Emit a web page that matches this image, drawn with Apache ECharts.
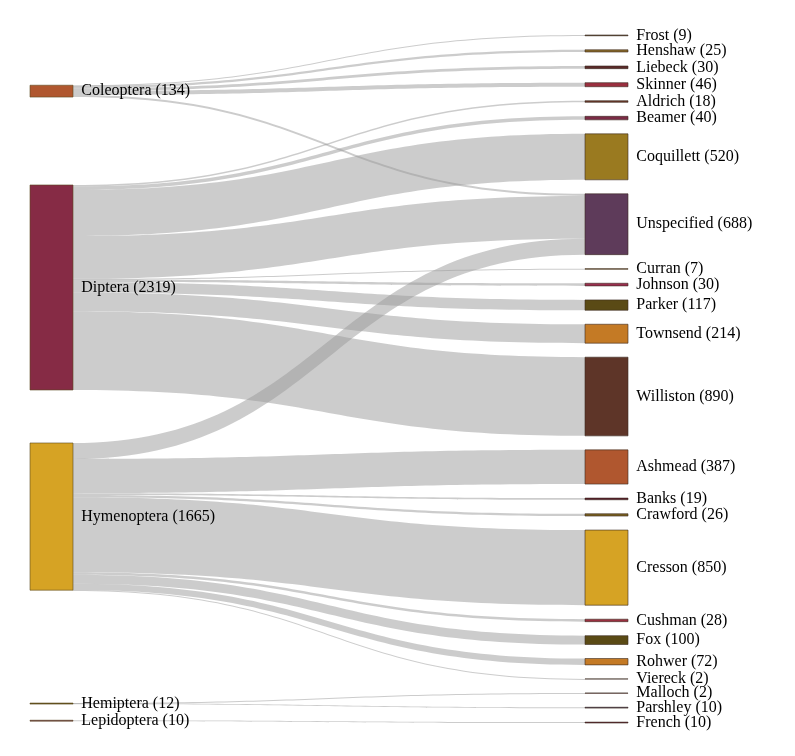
<!DOCTYPE html>
<html style="height: 100%">
<head>
  <meta charset="utf-8" />
  <script src="https://cdn.jsdelivr.net/npm/echarts@6/dist/echarts.min.js"></script>
</head>
<body style="height: 100%; margin: 0; background: #fff">
  <div id="chart" style="width: 795px; height: 756px"></div>
  <script>
    const orders = ['Coleoptera', 'Diptera', 'Hymenoptera', 'Hemiptera', 'Lepidoptera'];
    const orderColors = ['#b0572f', '#862b45', '#d6a324', '#6b5a1e', '#6b2b45'];
    const orderPos = [0.073, 0.218, 0.593, 0.971, 0.996];

    const authors = ['Frost', 'Henshaw', 'Liebeck', 'Skinner', 'Aldrich', 'Beamer', 'Coquillett',
      'Unspecified', 'Curran', 'Johnson', 'Parker', 'Townsend', 'Williston', 'Ashmead', 'Banks',
      'Crawford', 'Cresson', 'Cushman', 'Fox', 'Rohwer', 'Viereck', 'Malloch', 'Parshley', 'French'];
    const authorColors = ['#4a3a1a', '#8a6a2a', '#5a2a2a', '#9a2f3f', '#6b3a2a', '#7a2a45', '#9a7a20',
      '#5e3b5a', '#8a6a1a', '#9a2f4f', '#5a4a15', '#c47a25', '#5e3528', '#b0572f', '#5a1a2a',
      '#7a6020', '#d6a324', '#9a2f3f', '#5a4a15', '#c47a25', '#4a3a2a', '#6b2b3a', '#3a2a4a', '#6b2b3a'];

    // [source, target, value]
    const flows = [
      ['Coleoptera', 'Frost', 9], ['Coleoptera', 'Henshaw', 25], ['Coleoptera', 'Liebeck', 30],
      ['Coleoptera', 'Skinner', 46], ['Coleoptera', 'Unspecified', 24],
      ['Diptera', 'Aldrich', 18], ['Diptera', 'Beamer', 40], ['Diptera', 'Coquillett', 520],
      ['Diptera', 'Unspecified', 483], ['Diptera', 'Curran', 7], ['Diptera', 'Johnson', 30],
      ['Diptera', 'Parker', 117], ['Diptera', 'Townsend', 214], ['Diptera', 'Williston', 890],
      ['Hymenoptera', 'Unspecified', 181], ['Hymenoptera', 'Ashmead', 387], ['Hymenoptera', 'Banks', 19],
      ['Hymenoptera', 'Crawford', 26], ['Hymenoptera', 'Cresson', 850], ['Hymenoptera', 'Cushman', 28],
      ['Hymenoptera', 'Fox', 100], ['Hymenoptera', 'Rohwer', 72], ['Hymenoptera', 'Viereck', 2],
      ['Hemiptera', 'Malloch', 2], ['Hemiptera', 'Parshley', 10], ['Lepidoptera', 'French', 10]
    ];

    const totals = {};
    flows.forEach(([s, t, v]) => {
      totals[s] = (totals[s] || 0) + v;
      totals[t] = (totals[t] || 0) + v;
    });

    const nodes = orders.map((n, i) => ({
      name: n, localX: 0, localY: orderPos[i],
      itemStyle: { color: orderColors[i], borderColor: '#5a4a20', borderWidth: 0.6 }
    })).concat(authors.map((n, i) => ({
      name: n, localX: 1,
      itemStyle: { color: authorColors[i], borderColor: '#3a2a20', borderWidth: 0.6 }
    })));

    const chart = echarts.init(document.getElementById('chart'));
    chart.setOption({
      backgroundColor: '#fff',
      animation: false,
      series: [{
        type: 'sankey',
        left: 30, right: 210, top: 35, bottom: 33,
        nodeWidth: 43,
        nodeGap: 14,
        layoutIterations: 0,
        draggable: false,
        data: nodes,
        links: flows.map(([s, t, v]) => ({ source: s, target: t, value: v })),
        label: {
          position: 'right',
          color: '#000',
          fontFamily: 'Liberation Serif, DejaVu Serif, serif',
          fontSize: 16,
          distance: 8,
          formatter: p => p.name + ' (' + totals[p.name] + ')'
        },
        lineStyle: { color: '#999', opacity: 0.5, curveness: 0.5 },
        emphasis: { disabled: true }
      }]
    });
  </script>
</body>
</html>
